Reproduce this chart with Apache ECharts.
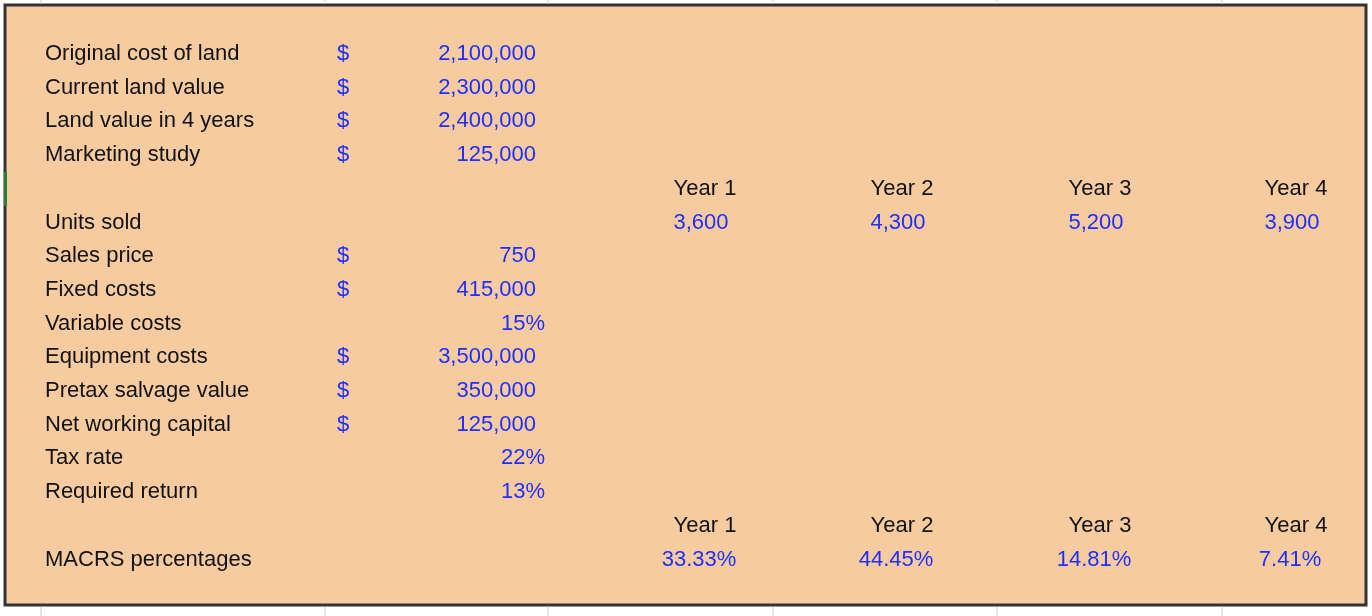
<!DOCTYPE html>
<html><head><meta charset="utf-8">
<script src="https://cdn.jsdelivr.net/npm/echarts@6/dist/echarts.min.js"></script>
<style>html,body{margin:0;padding:0;background:#fff}#c{width:1372px;height:616px}</style>
</head><body><div id="c"></div>
<script>
const labels = ["Original cost of land","Current land value","Land value in 4 years","Marketing study","","Units sold","Sales price","Fixed costs","Variable costs","Equipment costs","Pretax salvage value","Net working capital","Tax rate","Required return","","MACRS percentages"];
const dollarSigns = [true,true,true,true,false,false,true,true,false,true,true,true,false,false,false,false];
const values = ["2,100,000","2,300,000","2,400,000","125,000","","","750","415,000","15%","3,500,000","350,000","125,000","22%","13%","",""];
const yearLabels = ["Year 1","Year 2","Year 3","Year 4"];
const unitsSold = ["3,600","4,300","5,200","3,900"];
const macrs = ["33.33%","44.45%","14.81%","7.41%"];

const BLUE = '#1f2fff', BLACK = '#111';
const rowY = i => 54 + i * 33.7;
const yearX = [705, 902, 1100, 1296];
const font = '22px "Liberation Sans", Arial, sans-serif';
const g = [];
g.push({type:'rect', shape:{x:5,y:5,width:1361,height:600}, style:{fill:'#f7cba0', stroke:'#333', lineWidth:3}});
[41,325,548,773,997,1222].forEach(x=>{
  g.push({type:'line', shape:{x1:x,y1:0,x2:x,y2:4}, style:{stroke:'#ccc',lineWidth:1}});
  g.push({type:'line', shape:{x1:x,y1:607,x2:x,y2:616}, style:{stroke:'#ccc',lineWidth:1}});
});
g.push({type:'rect', shape:{x:4,y:172,width:3,height:34}, style:{fill:'#2e7d32'}});
function txt(s,x,y,align,color){ g.push({type:'text', x, y, style:{text:s, font, fill:color, align, verticalAlign:'middle'}}); }
labels.forEach((l,i)=>{ if(l) txt(l,45,rowY(i),'left',BLACK); });
dollarSigns.forEach((d,i)=>{ if(d) txt('$',343,rowY(i),'center',BLUE); });
values.forEach((v,i)=>{ if(v) txt(v, v.endsWith('%')?545:536, rowY(i), 'right', BLUE); });
yearLabels.forEach((y,j)=>{ txt(y,yearX[j],rowY(4),'center',BLACK); txt(y,yearX[j],rowY(14),'center',BLACK); });
unitsSold.forEach((u,j)=>txt(u,yearX[j]-4,rowY(5),'center',BLUE));
macrs.forEach((m,j)=>txt(m,yearX[j]-6,rowY(15),'center',BLUE));
const chart = echarts.init(document.getElementById('c'));
chart.setOption({animation:false, graphic:g});
</script></body></html>
